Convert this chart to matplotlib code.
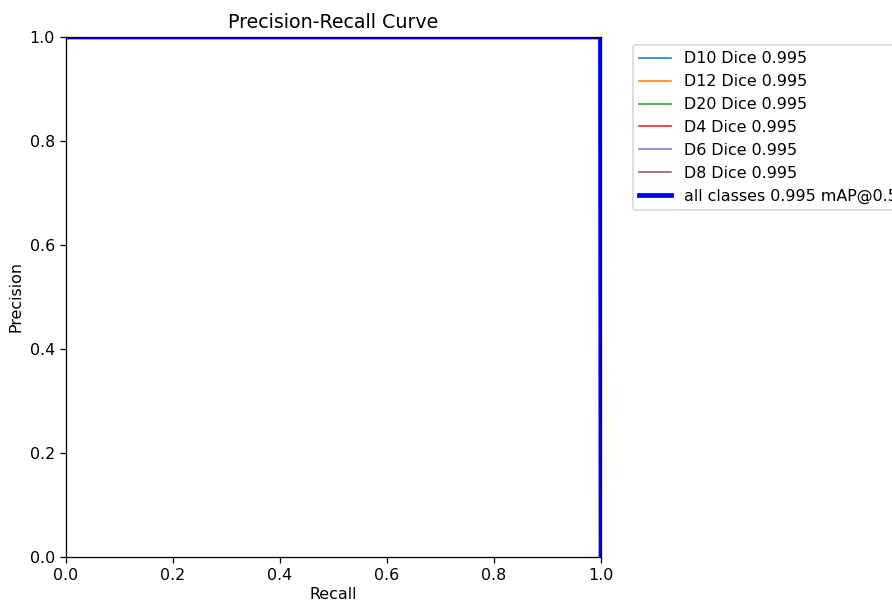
import numpy as np
import matplotlib
matplotlib.use('Agg')
import matplotlib.pyplot as plt

# class names and their AP@0.5
class_names = ['D10 Dice', 'D12 Dice', 'D20 Dice', 'D4 Dice', 'D6 Dice', 'D8 Dice']
class_ap = [0.995, 0.995, 0.995, 0.995, 0.995, 0.995]
map50 = 0.995

# PR curve points (same for every class: perfect precision until recall 1)
recall = [0.0, 0.5, 0.999, 1.0]
precision = [1.0, 1.0, 1.0, 0.0]
mean_recall = [0.0, 0.5, 0.999, 1.0]
mean_precision = [1.0, 1.0, 1.0, 0.0]

# the reference looks like a 9x6 figure rendered a bit larger, so use dpi 114
dpi = 114
fig = plt.figure(figsize=(892 / dpi, 601 / dpi), dpi=dpi)
ax = fig.add_axes([66 / 892, 44 / 601, 535 / 892, 520 / 601])

for name, ap in zip(class_names, class_ap):
    ax.plot(recall, precision, linewidth=1, label=f'{name} {ap:.3f}')

ax.plot(mean_recall, mean_precision, linewidth=3, color='blue',
        label=f'all classes {map50:.3f} mAP@0.5')

ax.set_xlabel('Recall', labelpad=2.5)
ax.set_ylabel('Precision')
ax.set_xlim(0, 1)
ax.set_ylim(0, 1)
ax.set_title('Precision-Recall Curve')
ax.legend(bbox_to_anchor=(1.045, 1), loc='upper left')

fig.savefig('out.png', dpi=dpi)
